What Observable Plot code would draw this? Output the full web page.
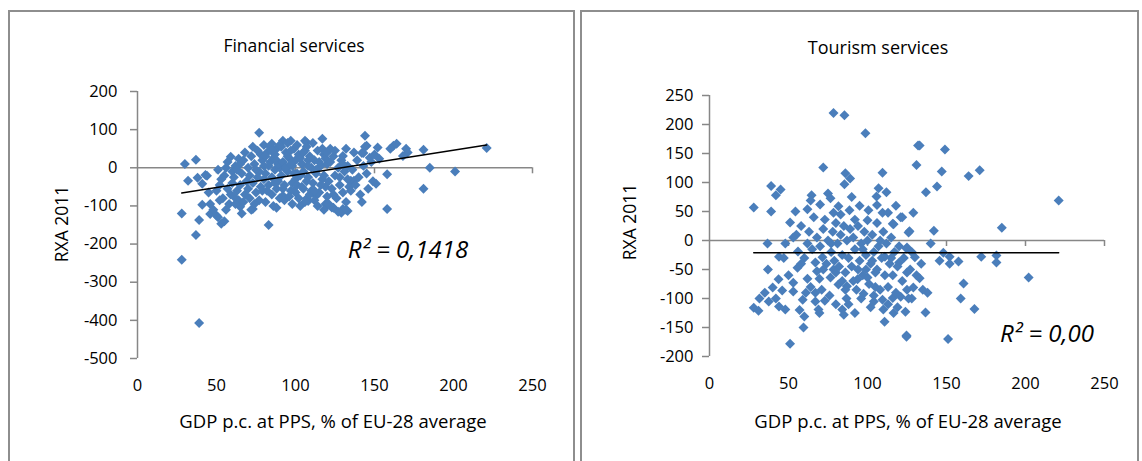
<!DOCTYPE html>
<html><head><meta charset="utf-8">
<script src="https://cdn.jsdelivr.net/npm/d3@7"></script>
<script src="https://cdn.jsdelivr.net/npm/@observablehq/plot@0.6"></script>
<style>
body{margin:0;background:#fff;font-family:"Open Sans",sans-serif;color:#000;}
#wrap{position:relative;width:1142px;height:461px;overflow:hidden;}
.panel{position:absolute;top:10px;height:480px;border:2px solid #8e8e8e;box-sizing:border-box;}
.t{position:absolute;white-space:nowrap;transform:translate(-50%,-50%);line-height:1;}
.yl{position:absolute;white-space:nowrap;transform:translate(-50%,-50%) rotate(-90deg);line-height:1;font-size:17.5px;}
.r2{font-style:italic;font-size:24px;}
svg{position:absolute;top:0;}
</style></head>
<body><div id="wrap">
<div class="panel" style="left:8px;width:567px;"></div>
<div class="panel" style="left:580px;width:559px;"></div>
</div>
<script>
// Financial services: [GDP p.c. % EU-28, RXA 2011]
const finPts = [
[28,-241],[39,-407],[28,-120],[30,10],[37,21],[32,-34],[38,-26],[44,-21],[41,-42],[45,-65],[41,-97],[39,-137],[37,-176],[46,-121],[51,-130],[53,-147],[46,-95],[43,-19],[48,-110],[50,-125],[55,-140],
[77,92],[83,-150],[73,-108],[65,-102],[88,-105],[59,29],[56,0],[64,24],[65,10],[92,71],[97,71],[85,63],[106,71],[107,66],[117,76],[122,50],[132,50],[130,31],[144,84],[145,58],[142,39],[152,53],[151,-42],[135,-34],[130,-108],[133,-113],[123,-104],[119,-95],[113,-73],[92,-73],[99,-60],[107,-81],[158,-17],[181,-55],[158,-108],[147,26],[153,24],[162,58],[164,63],[160,50],[170,50],[171,40],[168,31],[181,47],[185,0],[201,-10],[221,52],[108,-87],[120,-97],[124,-105],[129,-118],[132,-110],[137,-34],[143,39],
[50,-60],[52,-45],[54,-80],[55,-20],[57,-55],[58,-95],[60,-10],[52,-85],[56,-110],[59,-70],[53,-30],[60,-40],[57,15],[51,-5],
[61,-25],[62,5],[63,-60],[64,-85],[65,-45],[66,-15],[67,20],[68,-70],[69,-35],[62,-95],[66,-120],[70,0],[68,40],[63,-5],[70,-55],[61,-75],[67,-90],
[71,-20],[72,30],[73,-40],[74,10],[75,-65],[76,45],[77,-10],[78,-50],[79,20],[80,-30],[71,-80],[73,55],[75,-5],[77,-85],[78,35],[79,-60],[80,5],[72,-110],[76,-25],[74,-95],[80,60],
[81,-15],[82,40],[83,-45],[84,15],[85,-70],[86,25],[87,-5],[88,50],[89,-35],[90,0],[81,-90],[82,-60],[84,55],[85,-25],[86,-100],[87,35],[88,-55],[89,10],[90,-80],[83,5],[85,45],[87,-40],[88,20],[90,60],[81,30],
[91,-20],[92,15],[93,-45],[94,40],[95,-10],[96,25],[97,-60],[98,5],[99,50],[100,-30],[91,55],[93,-85],[94,-5],[95,30],[96,-75],[97,45],[98,-40],[99,-15],[100,20],[92,-55],[95,65],[98,-95],[100,-65],[94,0],[97,10],
[101,-45],[102,35],[103,-20],[104,10],[105,-55],[106,45],[107,-35],[108,20],[109,-70],[110,0],[101,60],[102,-80],[103,25],[104,-50],[105,-10],[106,-90],[107,55],[108,-25],[109,30],[110,-60],[103,-100],[105,40],[108,5],[101,-15],
[111,-40],[112,20],[113,-15],[114,45],[115,-65],[116,5],[117,-30],[118,35],[119,-50],[120,10],[111,65],[112,-85],[113,-5],[114,-100],[116,-45],[117,50],[118,-20],[119,25],[120,-75],[115,15],[112,-60],[118,-110],[120,40],
[121,-35],[122,15],[123,-55],[124,30],[125,-20],[126,-80],[127,0],[128,-45],[129,20],[130,-65],[131,-10],[132,-90],[133,5],[134,-50],[121,-95],[125,45],[127,-115],[128,-25],[130,10],[133,-30],[135,-60],[124,-70],
[136,-5],[138,-45],[139,20],[140,-25],[141,-70],[143,5],[145,-15],[146,-55],[148,15],[149,-35],[150,35],[137,40],[142,-90],[144,55]
];
// Tourism services
const tourPts = [
[78.5,220],[85.4,216],[98.7,185],[132,164],[131,130],[72,126],[86,116],[89,107],[85.4,97],[109.5,117],[39,94],[45,88],[42,78],[28,57],[39,50],[64.6,78],[64,69],[70,62],[75,81],[76.6,73],[107,90],[105.7,76],[112,83],[106,61],[100.6,52],[109.5,48],[113,48],[121,40],[129,48],[116,29],[54.4,50],[51,31],[62,54],[81.6,59],[88.6,52],[92,36],[78.5,48],[73,36],
[36.7,-5],[44,-28],[37,-50],[43.7,-67],[40,-81],[46,-86],[31.6,-100],[28,-116],[31,-121],[37.5,-105],[44,-114],[48,-119],[51,-178],[59.5,-150],[60,-131],[59,-102],[53,-73],[53,-88],[55.7,-47],[56,-19],[62,-5],[67,-38],[68,-53],[62,-66],[69.6,-66],[67,-90],[73,-104],[67,-105],[69,-119],[69.6,-125],[71.5,-29],[76.6,-64],[78.5,-50],[81.6,-76],[84,-119],[85,-128],[86.7,-100],[87,-79],[93.7,-67],[97.5,-92],[104,-105],[109.5,-102],[110,-119],[110.8,-140],[116,-99],[116.5,-125],[121,-97],[124,-123],[124.7,-164],[126,14],[125,-85],[116.5,28],[125,-12],[120,-38],[106,-50],[111,-28],[100,-64],
[133,164],[149,157],[147,119],[164,111],[171,121],[144,93],[137,83],[221,69],[122,40],[126.6,16],[142,17],[185,22],[124.7,-14],[148,-21],[130,-29],[145.6,-35],[152,-28],[152,-40],[157.6,-36],[172,-28],[181.6,-26],[181.6,-38],[202,-64],[160.8,-74],[159,-100],[167.7,-118],[136.7,-124],[124.7,-166],[151,-170],[129,-81],[135,-85],[125,-55],
[55,10],[58,25],[60,-30],[63,15],[65,-15],[66,40],[68,5],[70,-10],[72,20],[74,-40],[75,0],[77,-20],[78,15],[79,-35],[80,30],[81,-5],[82,-45],[83,10],[84,-25],[85,25],[86,-55],[87,0],[88,-30],[89,20],[90,-45],[91,5],[92,-15],[93,-85],[94,25],[95,-35],[96,-5],[97,-60],[98,15],[99,-25],[100,0],[101,-75],[102,-40],[103,10],[104,-20],[105,-55],[106,30],[107,-10],[108,-85],[109,-30],[110,15],[111,-60],[112,-5],[113,-80],[114,-40],[115,5],[116,-60],[117,-20],[118,-90],[119,-45],[120,-10],[122,-70],[123,-30],[127,-50],[128,-100],[131,-60],[134,-40],
[88,-110],[92,-125],[96,-100],[102,-115],[76,-95],[80,-110],[71,-85],[64,-80],[57,-120],[90,75],[95,60],[100,35],[83,45],[72,-50],[77,-5],[84,-70],[99,-50],[105,-80],[113,-110],[58,-40],[50,-60],[47,-30],[42,-100],[35,-90],[48,-5],[53,5],[61,-90],[97,-15],[103,-35],[94,-50],[108,0],[115,-30],[119,-115],[126,-100],[133,-65],[138,-90],[140,-5],[118,60],[128,-20],[104,-95],[86,-85],[91,-70],[80,-55]
];
const finTrendX = [28, 221], finTrendY = [-66, 60];
const tourTrendX = [28, 221], tourTrendY = [-21, -21];
const xTicks = [0, 50, 100, 150, 200, 250];
const finYTicks = [200, 100, 0, -100, -200, -300, -400, -500];
const tourYTicks = [250, 200, 150, 100, 50, 0, -50, -100, -150, -200];
const titles = ["Financial services", "Tourism services"];
const yLabel = "RXA 2011";
const xLabel = "GDP p.c. at PPS, % of EU-28 average";
const r2Labels = ["R² = 0,1418", "R² = 0,00"];

const axisGray = "#878787";
const dotBlue = "#4a7ebb";

function scatter({pts, tx, ty, yTicks, width, mL, mR, mT, mB, pad}) {
  const trend = tx.map((x, i) => ({x, y: ty[i]}));
  return Plot.plot({
    width, height: 461, marginLeft: mL, marginRight: mR, marginTop: mT, marginBottom: mB,
    x: {domain: [0, 250]},
    y: {domain: [yTicks[yTicks.length - 1], yTicks[0]]},
    style: {fontFamily: "'Open Sans', sans-serif", fontSize: "16px", background: "transparent", color: "black", overflow: "visible"},
    marks: [
      Plot.ruleY([0], {stroke: axisGray, strokeWidth: 1.5}),
      Plot.ruleX(xTicks.slice(1), {x: d => d, y1: 0, y2: 0, insetBottom: -6, stroke: axisGray, strokeWidth: 1.5}),
      Plot.ruleX([0], {stroke: axisGray, strokeWidth: 1.5}),
      Plot.axisY(yTicks, {tickSize: 7, tickPadding: pad, stroke: axisGray, strokeWidth: 1.5, label: null, fontSize: 16.5, tickFormat: d => String(d)}),
      Plot.axisX(xTicks, {tickSize: 0, tickPadding: 21, label: null, fontSize: 16.5, tickFormat: d => String(d)}),
      Plot.dot(pts, {x: d => d[0], y: d => d[1], symbol: "diamond2", r: 4.5, fill: dotBlue}),
      Plot.line(trend, {x: "x", y: "y", stroke: "black", strokeWidth: 1.5})
    ]
  });
}

const wrap = document.getElementById("wrap");
const left = scatter({pts: finPts, tx: finTrendX, ty: finTrendY, yTicks: finYTicks, width: 576, mL: 137, mR: 44, mT: 91, mB: 103, pad: 13});
left.style.left = "0px";
wrap.appendChild(left);
const right = scatter({pts: tourPts, tx: tourTrendX, ty: tourTrendY, yTicks: tourYTicks, width: 567, mL: 134, mR: 38, mT: 95, mB: 105, pad: 9});
right.style.left = "575px";
wrap.appendChild(right);

function addText(txt, x, y, cls, style) {
  const d = document.createElement("div");
  d.className = cls; d.textContent = txt;
  d.style.left = x + "px"; d.style.top = y + "px";
  Object.assign(d.style, style || {});
  wrap.appendChild(d);
}
addText(titles[0], 294, 46, "t", {fontSize: "17.5px"});
addText(titles[1], 878, 47, "t", {fontSize: "18px"});
addText(yLabel, 62, 224, "yl");
addText(yLabel, 630, 222, "yl");
addText(xLabel, 333, 421, "t", {fontSize: "18.5px"});
addText(xLabel, 908, 421, "t", {fontSize: "18.5px"});
addText(r2Labels[0], 408, 249, "t r2");
addText(r2Labels[1], 1047, 333, "t r2");
</script>
</body></html>
